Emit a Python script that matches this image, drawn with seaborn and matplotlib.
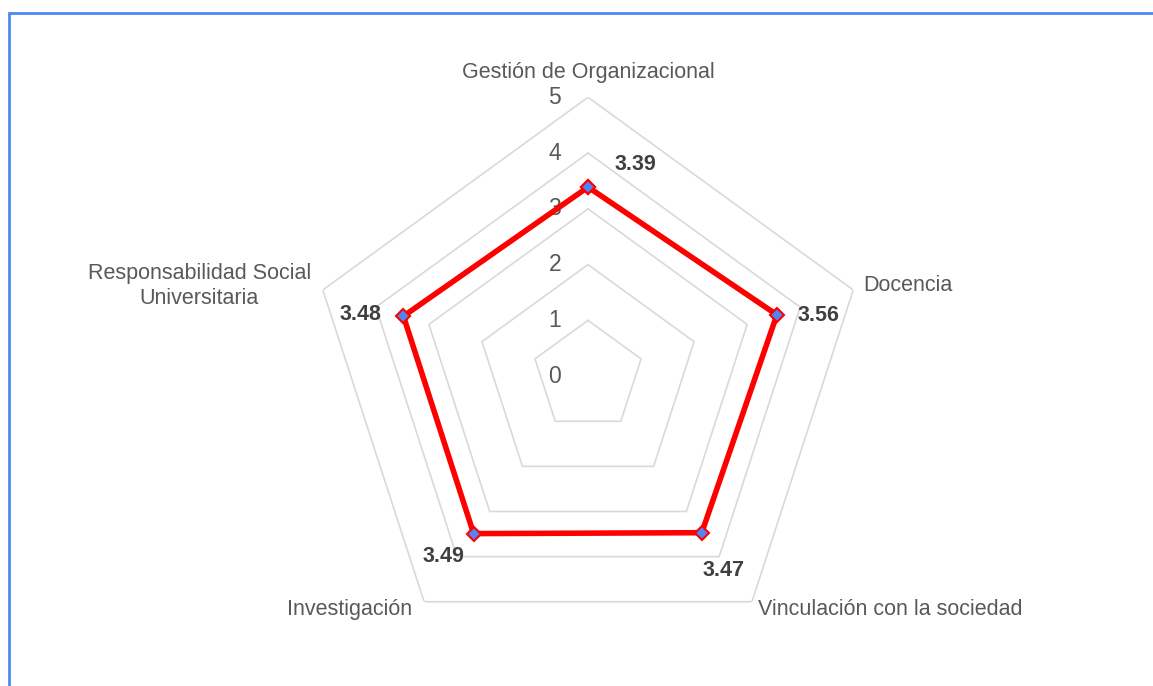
import numpy as np
import pandas as pd
import matplotlib
matplotlib.use("Agg")
import matplotlib.pyplot as plt
from matplotlib.patches import Rectangle
import seaborn as sns

# chart data
categories = ["Gestión de Organizacional", "Docencia", "Vinculación con la sociedad",
              "Investigación", "Responsabilidad Social\nUniversitaria"]
scores = [3.39, 3.56, 3.47, 3.49, 3.48]
levels = [0, 1, 2, 3, 4, 5]

# label placement (pixel offsets from the axis end / from the point)
cat_offsets = [(0, 25, "center"), (10, 4, "left"), (6, -8, "left"),
               (-12, -8, "right"), (-12, 4, "right")]
val_offsets = [(47, 23), (42, -1), (22, -38), (-30, -23), (-43, 2)]

sns.set_theme(style="white")
plt.rcParams["font.family"] = ["Liberation Sans", "DejaVu Sans"]

n = len(categories)
angles = np.linspace(0, 2 * np.pi, n, endpoint=False)
closed_angles = np.append(angles, angles[0])

fig = plt.figure(figsize=(11.53, 6.86), dpi=100)
ax = fig.add_axes([0.268, 0.0452, 0.484, 0.813], projection="polar")
ax.set_theta_zero_location("N")
ax.set_theta_direction(-1)
ax.set_ylim(0, 5)
ax.grid(False)
ax.spines["polar"].set_visible(False)
ax.set_xticks([])
ax.set_yticks([])
ax.set_facecolor("none")

# pentagon grid
for lv in levels[1:]:
    ax.plot(closed_angles, [lv] * (n + 1), color="#d9d9d9", lw=1.2, zorder=1)

# radial tick labels
for lv in levels:
    ax.annotate(str(lv), xy=(0, lv), xytext=(-27, 0), textcoords="offset pixels",
                ha="right", va="center", fontsize=16.5, color="#595959", zorder=2)

# category labels
for ang, cat, (dx, dy, ha) in zip(angles, categories, cat_offsets):
    ax.annotate(cat, xy=(ang, 5), xytext=(dx, dy), textcoords="offset pixels",
                ha=ha, va="center", fontsize=15.5, color="#595959",
                multialignment="center", annotation_clip=False)

# data line (closed polygon)
df = pd.DataFrame({"theta": closed_angles, "score": scores + [scores[0]]})
sns.lineplot(data=df, x="theta", y="score", sort=False, estimator=None, ax=ax,
             color="#ff0000", lw=4, marker="D", markersize=7.5,
             markerfacecolor="#4f86f7", markeredgecolor="#ff0000",
             markeredgewidth=1.5, zorder=5)
ax.set_xlabel("")
ax.set_ylabel("")

# value labels
for ang, val, (dx, dy) in zip(angles, scores, val_offsets):
    ax.annotate(f"{val:.2f}", xy=(ang, val), xytext=(dx, dy), textcoords="offset pixels",
                ha="center", va="center", fontsize=15.5, fontweight="bold",
                color="#404040", zorder=6)

# chart area border (only left and top edges visible in frame)
fig.patches.append(Rectangle((8.5 / 1153, -0.1), 1.2, (686 - 13) / 686 + 0.1,
                             transform=fig.transFigure, fill=False,
                             edgecolor="#4a8af4", lw=2, zorder=0))

fig.savefig("out.png", dpi=100)
